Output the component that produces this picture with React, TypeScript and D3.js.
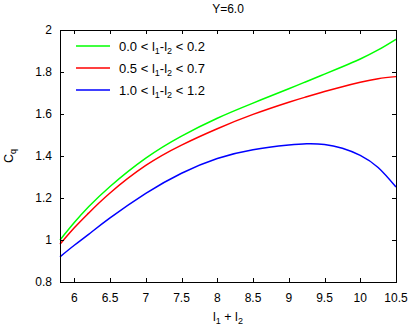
import React from "react";
import * as d3 from "d3";

const xs = [5.8, 6.0, 6.2, 6.5, 7.0, 7.5, 8.0, 8.5, 9.0, 9.25, 9.5, 9.75, 10.0, 10.25, 10.5];
const green = [1.0, 1.083, 1.158, 1.255, 1.39, 1.495, 1.58, 1.652, 1.72, 1.755, 1.79, 1.825, 1.862, 1.905, 1.956];
const red = [0.98, 1.058, 1.128, 1.224, 1.355, 1.452, 1.53, 1.598, 1.656, 1.682, 1.707, 1.73, 1.751, 1.768, 1.778];
const blue = [0.92, 0.975, 1.027, 1.105, 1.222, 1.318, 1.388, 1.43, 1.452, 1.458, 1.455, 1.437, 1.403, 1.345, 1.252];
const xTicks = [6, 6.5, 7, 7.5, 8, 8.5, 9, 9.5, 10, 10.5];
const yTicks = [0.8, 1, 1.2, 1.4, 1.6, 1.8, 2];
const seriesNames = ["0.0 < l1-l2 < 0.2", "0.5 < l1-l2 < 0.7", "1.0 < l1-l2 < 1.2"];
const ranges = [["0.0", "0.2"], ["0.5", "0.7"], ["1.0", "1.2"]];
const colors = ["#00ff00", "#ff0000", "#0000ff"];
const title = "Y=6.0";

export default function App() {
  const W = 410, H = 327;
  const L = 60, R = 396, T = 30, B = 282;
  const x = d3.scaleLinear().domain([5.8, 10.5]).range([L, R]);
  const y = d3.scaleLinear().domain([0.8, 2]).range([B, T]);
  const line = d3
    .line<number>()
    .x((_, i) => x(xs[i]))
    .y((d) => y(d))
    .curve(d3.curveNatural);
  const series = [green, red, blue];
  const font = "'Liberation Sans', Arial, sans-serif";
  return (
    <svg
      width={W}
      height={H}
      style={{ position: "absolute", left: 0, top: 0, background: "#fff" }}
      fontFamily={font}
    >
      <rect x={0} y={0} width={W} height={H} fill="#fff" />
      <text x={(L + R) / 2} y={13} fontSize={12} textAnchor="middle" fill="#000">
        {title}
      </text>
      {series.map((s, i) => (
        <path key={i} d={line(s) || ""} fill="none" stroke={colors[i]} strokeWidth={1.5} />
      ))}
      {xTicks.map((t) => (
        <g key={"x" + t}>
          <line x1={Math.round(x(t)) + 0.5} x2={Math.round(x(t)) + 0.5} y1={B} y2={B - 4} stroke="#000" />
          <line x1={Math.round(x(t)) + 0.5} x2={Math.round(x(t)) + 0.5} y1={T} y2={T + 4} stroke="#000" />
          <text x={x(t)} y={302} fontSize={12} textAnchor="middle" fill="#000">
            {String(t)}
          </text>
        </g>
      ))}
      {yTicks.map((t) => (
        <g key={"y" + t}>
          <line x1={L} x2={L + 4} y1={Math.round(y(t)) + 0.5} y2={Math.round(y(t)) + 0.5} stroke="#000" />
          <line x1={R} x2={R - 4} y1={Math.round(y(t)) + 0.5} y2={Math.round(y(t)) + 0.5} stroke="#000" />
          <text x={52} y={y(t) + 4} fontSize={12} textAnchor="end" fill="#000">
            {String(t)}
          </text>
        </g>
      ))}
      <rect x={L + 0.5} y={T + 0.5} width={R - L} height={B - T} fill="none" stroke="#000" strokeWidth={1} />
      {seriesNames.map((n, i) => {
        const ly = 46 + i * 22;
        return (
          <g key={n}>
            <line x1={76} x2={110} y1={ly} y2={ly} stroke={colors[i]} strokeWidth={1.5} />
            <text x={119} y={ly + 4.5} fontSize={13} fill="#000">
              {ranges[i][0]} &lt; l
              <tspan fontSize={9} dy={3}>1</tspan>
              <tspan dy={-3}>-l</tspan>
              <tspan fontSize={9} dy={3}>2</tspan>
              <tspan dy={-3}> &lt; {ranges[i][1]}</tspan>
            </text>
          </g>
        );
      })}
      <text x={(L + R) / 2} y={321} fontSize={12.5} textAnchor="middle" fill="#000">
        l<tspan fontSize={9} dy={3}>1</tspan>
        <tspan dy={-3}> + l</tspan>
        <tspan fontSize={9} dy={3}>2</tspan>
      </text>
      <text transform="translate(13,156) rotate(-90)" fontSize={12.5} textAnchor="middle" fill="#000">
        C<tspan fontSize={9} dy={3}>q</tspan>
      </text>
    </svg>
  );
}
